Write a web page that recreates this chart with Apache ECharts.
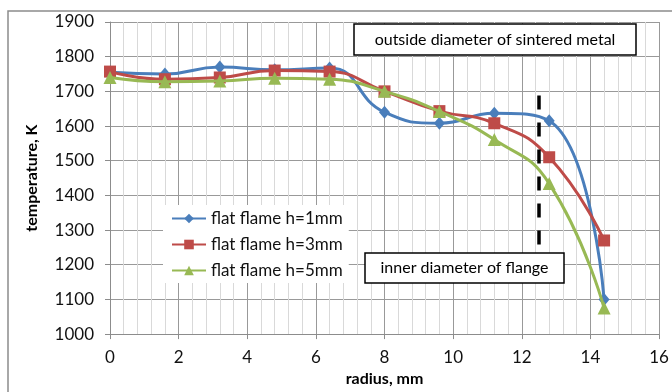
<!DOCTYPE html>
<html>
<head>
<meta charset="utf-8">
<script src="https://cdn.jsdelivr.net/npm/echarts@6/dist/echarts.min.js"></script>
<style>
html,body{margin:0;padding:0;background:#fff;}
#chart{width:672px;height:392px;}
</style>
</head>
<body>
<div id="chart"></div>
<script>
var radius = [0, 1.6, 3.2, 4.8, 6.4, 8, 9.6, 11.2, 12.8, 14.4];
var h1 = [1755, 1750, 1770, 1762, 1767, 1640, 1608, 1637, 1615, 1100];
var h3 = [1757, 1735, 1740, 1760, 1757, 1700, 1643, 1608, 1510, 1270];
var h5 = [1740, 1728, 1730, 1738, 1735, 1700, 1642, 1561, 1434, 1075];
var seriesNames = ['flat flame h=1mm', 'flat flame h=3mm', 'flat flame h=5mm'];
var flangeLine = [[12.5, 1688], [12.5, 1258]];
var outsideLabel = 'outside diameter of sintered metal';
var innerLabel = 'inner diameter of flange';

var FONT = 'Lato';
function pairs(xs, ys){ return xs.map(function(x,i){ return [x, ys[i]]; }); }

var chart = echarts.init(document.getElementById('chart'), null, {renderer:'canvas'});
var colors = ['#4A7EBB', '#BE4B48', '#98B954'];
var symbols = ['diamond', 'rect', 'triangle'];
var sizes = [[11,13], 12, 13];
var data = [h1, h3, h5];

var series = data.map(function(d, i){
  return {
    name: seriesNames[i], type: 'line', data: pairs(radius, d),
    smooth: 0.5, symbol: symbols[i], symbolSize: sizes[i],
    lineStyle: {width: 3, color: colors[i]},
    itemStyle: {color: colors[i]},
    z: 3 + i
  };
});
series[0].markLine = {
  silent: true, symbol: 'none', animation: false,
  lineStyle: {color: '#000', type: [14, 13], width: 3.5},
  label: {show: false},
  data: [[{coord: flangeLine[0]}, {coord: flangeLine[1]}]]
};

function boxChildren(w, h, text){
  return [
    {type: 'rect', z: 100, shape: {x: 0, y: 0, width: w, height: h},
     style: {fill: '#ffffff', stroke: '#000', lineWidth: 1.5}},
    {type: 'text', z: 101, x: w/2, y: h/2, style: {text: text, fill: '#000', font: '16px ' + FONT, align: 'center', verticalAlign: 'middle'}}
  ];
}

chart.setOption({
  animation: false,
  color: colors,
  textStyle: {fontFamily: FONT},
  grid: {left: 110, right: 13, top: 22, bottom: 52},
  xAxis: {
    type: 'value', min: 0, max: 16, interval: 2,
    name: 'radius, mm', nameLocation: 'middle', nameGap: 35,
    nameTextStyle: {fontFamily: FONT, fontWeight: 'bold', fontSize: 16, color: '#000'},
    axisLine: {show: true, lineStyle: {color: '#8c8c8c', width: 1}},
    axisTick: {show: true, length: 5, lineStyle: {color: '#8c8c8c'}},
    axisLabel: {fontFamily: FONT, fontSize: 17, color: '#111', margin: 15},
    splitLine: {show: true, lineStyle: {color: '#999', width: 1}},
    minorTick: {show: false, splitNumber: 5},
    minorSplitLine: {show: true, lineStyle: {color: '#d9d9d9', width: 1}}
  },
  yAxis: {
    type: 'value', min: 1000, max: 1900, interval: 100,
    name: 'temperature, K', nameLocation: 'middle', nameGap: 70,
    nameTextStyle: {fontFamily: FONT, fontWeight: 'bold', fontSize: 16, color: '#000'},
    axisLine: {show: true, lineStyle: {color: '#8c8c8c', width: 1}},
    axisTick: {show: true, length: 5, lineStyle: {color: '#8c8c8c'}},
    axisLabel: {fontFamily: FONT, fontSize: 17, color: '#111', margin: 16, formatter: function(v){ return String(v); }},
    splitLine: {show: true, lineStyle: {color: '#999', width: 1}}
  },
  legend: {
    orient: 'vertical', left: 163, top: 205,
    backgroundColor: '#fff', padding: [5, 6, 4, 8],
    itemWidth: 34, itemHeight: 12, itemGap: 9,
    textStyle: {fontFamily: FONT, fontSize: 17, color: '#111'},
    data: seriesNames
  },
  graphic: [
    {type: 'rect', z: -10, silent: true,
     shape: {x: 8, y: 11, width: 700, height: 400},
     style: {fill: 'none', stroke: '#8c8c8c', lineWidth: 1.5}},
    {type: 'group', x: 354, y: 24, z: 100, children: boxChildren(282, 31, outsideLabel)},
    {type: 'group', x: 365, y: 253, z: 100, children: boxChildren(199, 30, innerLabel)}
  ],
  series: series
});
</script>
</body>
</html>
